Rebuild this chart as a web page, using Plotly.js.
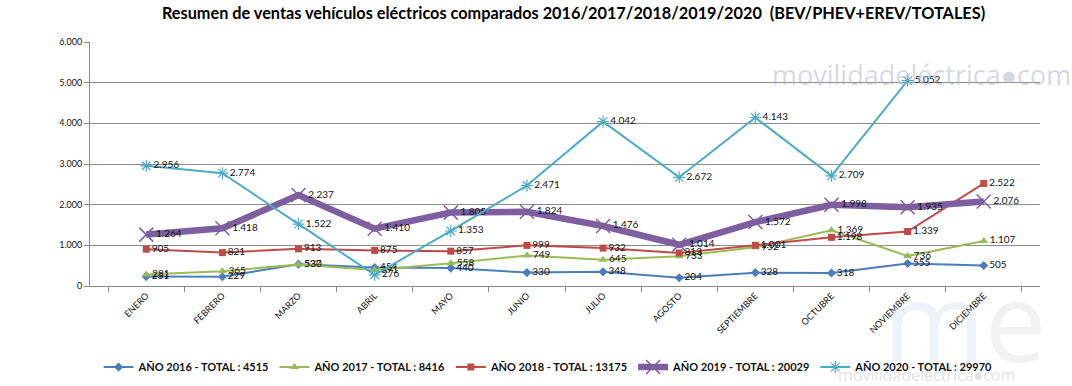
<!DOCTYPE html>
<html>
<head>
<meta charset="utf-8">
<script src="https://cdn.plot.ly/plotly-3.0.1.min.js"></script>
<style>html,body{margin:0;padding:0;background:#fff;}#chart{width:1072px;height:386px;}</style>
</head>
<body>
<div id="chart"></div>
<script>
const months = ["ENERO","FEBRERO","MARZO","ABRIL","MAYO","JUNIO","JULIO","AGOSTO","SEPTIEMBRE","OCTUBRE","NOVIEMBRE","DICIEMBRE"];
const y2016 = [231, 229, 537, 454, 440, 330, 348, 204, 328, 318, 555, 505];
const y2017 = [281, 365, 530, 391, 558, 749, 645, 733, 952, 1369, 736, 1107];
const y2018 = [905, 821, 913, 875, 857, 999, 932, 813, 1001, 1198, 1339, 2522];
const y2019 = [1264, 1418, 2237, 1410, 1805, 1824, 1476, 1014, 1572, 1998, 1935, 2076];
const y2020 = [2956, 2774, 1522, 276, 1353, 2471, 4042, 2672, 4143, 2709, 5052, null];
const names = ["AÑO 2016 - TOTAL : 4515","AÑO 2017 - TOTAL : 8416","AÑO 2018 - TOTAL : 13175","AÑO 2019 - TOTAL : 20029","AÑO 2020 - TOTAL : 29970"];

const lab = {family:"Lato, 'Open Sans', sans-serif", size:10, color:"#111"};
function tr(y, name, color, width, symbol, msize, mline){
  return {
    x: months, y: y, name: name, type: "scatter", mode: "lines+markers+text",
    line: {color: color, width: width},
    marker: {color: color, symbol: symbol, size: msize, line: {color: color, width: mline}},
    texttemplate: "%{y:,}", textposition: "middle right", textfont: lab,
    cliponaxis: false, connectgaps: false
  };
}
const data = [
  tr(y2016, names[0], "#4A7EBB", 2, "diamond", 7, 0),
  tr(y2017, names[1], "#9BBB59", 2, "triangle-up", 8, 0),
  tr(y2018, names[2], "#BE4B48", 2, "square", 7, 0),
  tr(y2019, names[3], "#7D5FA0", 6.5, "x-thin-open", 14, 1.5),
  tr(y2020, names[4], "#4BACC6", 2, "asterisk-open", 10, 1.2)
];

const layout = {
  width: 1072, height: 386,
  margin: {l: 90, r: 32, t: 42, b: 100},
  paper_bgcolor: "#fff", plot_bgcolor: "#fff",
  separators: ",.",
  font: {family: "Lato, 'Open Sans', sans-serif", color: "#111"},
  title: {text: "<b>Resumen de ventas vehículos eléctricos comparados 2016/2017/2018/2019/2020  (BEV/PHEV+EREV/TOTALES)</b>",
          font: {family: "Lato, 'Open Sans', sans-serif", size: 16.3, color: "#000"},
          x: 0.535, xanchor: "center", y: 0.966, yanchor: "middle"},
  xaxis: {type: "category", showgrid: false, showline: true, linecolor: "#888", linewidth: 1, automargin: false,
          ticks: "outside", tickson: "boundaries", ticklen: 5, tickcolor: "#888",
          tickangle: -45, tickfont: {size: 9, color: "#111"}, zeroline: false, fixedrange: true},
  yaxis: {range: [0, 6000], dtick: 1000, tickformat: ",", showgrid: true, gridcolor: "#8c8c8c", gridwidth: 1, automargin: false,
          showline: true, linecolor: "#888", ticks: "outside", ticklen: 5, tickcolor: "#888",
          tickfont: {size: 9, color: "#111"}, zeroline: false, fixedrange: true},
  showlegend: true,
  legend: {orientation: "h", xref: "container", yref: "container", x: 0.092, xanchor: "left", y: 0.049, yanchor: "middle",
           font: {size: 11, weight: "bold", color: "#111"}, itemwidth: 30, tracegroupgap: 0,
           bgcolor: "rgba(0,0,0,0)"},
  annotations: [
    {xref: "paper", yref: "paper", x: 1.035, y: 0.865, xanchor: "right", yanchor: "middle", showarrow: false,
     text: "movilidadeléctrica●com", font: {size: 27, color: "rgba(175,178,195,0.5)", family: "'Open Sans', sans-serif"}},
    {xref: "paper", yref: "paper", x: 0.833, y: 0.18, xanchor: "left", yanchor: "top", showarrow: false,
     text: "<span style='color:rgba(180,202,228,0.55)'>m</span><span style='color:rgba(190,190,190,0.5)'>e</span>",
     font: {size: 110, color: "rgba(200,205,220,0.4)", family: "'Open Sans', sans-serif"}},
    {xref: "paper", yref: "paper", x: 0.88, y: -0.365, xanchor: "center", yanchor: "middle", showarrow: false,
     text: "movilidadeléctrica●com", font: {size: 16, color: "rgba(195,195,205,0.5)", family: "'Open Sans', sans-serif"}}
  ]
};
Plotly.newPlot("chart", data, layout, {staticPlot: true, displayModeBar: false});
</script>
</body>
</html>
